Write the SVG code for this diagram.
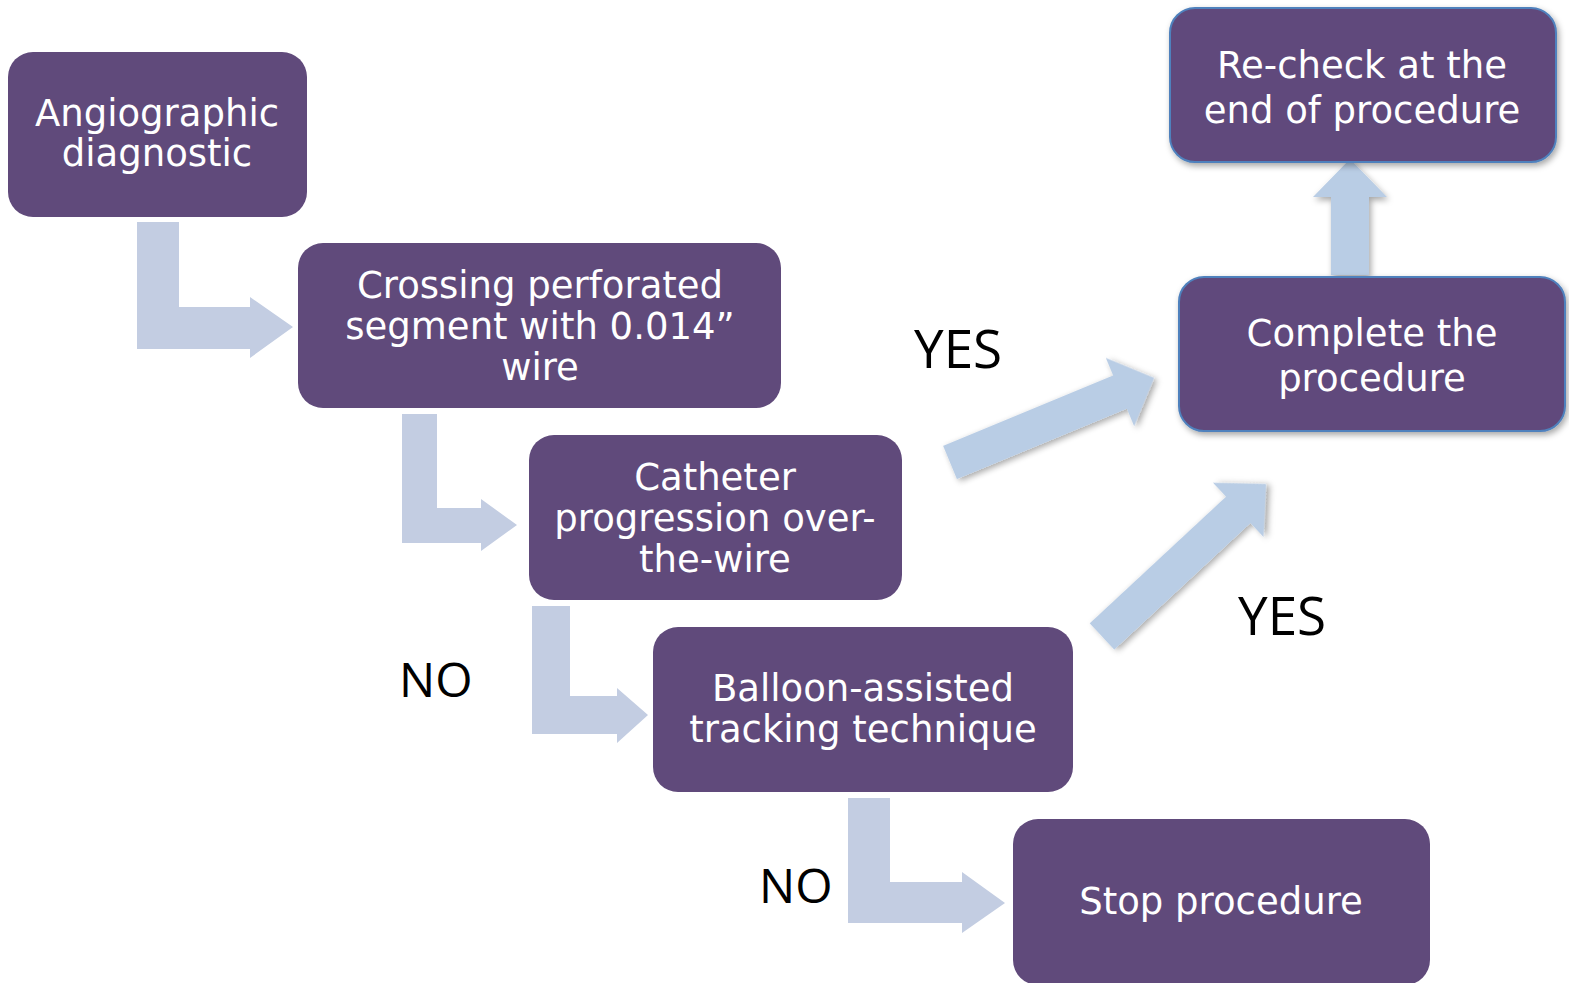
<svg xmlns="http://www.w3.org/2000/svg" width="1569" height="983" viewBox="0 0 1569 983">
<defs>
<filter id="sh" x="-20%" y="-20%" width="140%" height="150%">
<feDropShadow dx="2" dy="3" stdDeviation="3" flood-color="#000" flood-opacity="0.35"/>
</filter>
<style>
.box{fill:#604A7B;}
.boxb{fill:#604A7B;stroke:#4F81BD;stroke-width:2;filter:url(#sh);}
.t{font-family:"DejaVu Sans",Verdana,sans-serif;font-size:37px;fill:#FFFFFF;text-anchor:middle;}
.lbl{font-family:"Open Sans","Liberation Sans",sans-serif;font-size:50px;fill:#000000;}
.yes{font-size:53px;}
.no{font-size:48px;}
.bent{fill:#C3CDE2;}
.arr{fill:#B9CDE5;filter:url(#sh);}
</style>
</defs>
<rect width="1569" height="983" fill="#FFFFFF"/>
<g id="connectors">
<polygon class="bent" points="137,222 179,222 179,307 250,307 250,297 293,327 250,358 250,349 137,349"/>
<polygon class="bent" points="402,414 437,414 437,508 481,508 481,499 517,525 481,551 481,543 402,543"/>
<polygon class="bent" points="532,606 570,606 570,696 617,696 617,688 648,715 617,743 617,734 532,734"/>
<polygon class="bent" points="848,798 890,798 890,882 962,882 962,872 1005,903 962,933 962,923 848,923"/>
<polygon class="arr" points="1331,275 1331,197 1313,197 1350,159 1387,197 1369,197 1369,275"/>
<polygon class="arr" transform="translate(950,462.5) rotate(-22.5)" points="0,-18 184,-18 184,-37 221,0 184,37 184,18 0,18"/>
<polygon class="arr" transform="translate(1102,636.5) rotate(-42.9)" points="0,-18 186,-18 186,-37 224,0 186,37 186,18 0,18"/>
<text class="lbl yes" x="914" y="368">YES</text>
<text class="lbl yes" x="1238" y="635">YES</text>
<text class="lbl no" x="399" y="697">NO</text>
<text class="lbl no" x="759" y="903">NO</text>
</g>
<g id="n1">
<rect class="box" x="8" y="52" width="299" height="165" rx="25"/>
<text class="t" x="157" y="126">Angiographic</text>
<text class="t" x="157" y="166">diagnostic</text>
</g>
<g id="n2">
<rect class="box" x="298" y="243" width="483" height="165" rx="25"/>
<text class="t" x="540" y="298">Crossing perforated</text>
<text class="t" x="540" y="339">segment with 0.014”</text>
<text class="t" x="540" y="380">wire</text>
</g>
<g id="n3">
<rect class="box" x="529" y="435" width="373" height="165" rx="25"/>
<text class="t" x="715" y="490">Catheter</text>
<text class="t" x="715" y="531">progression over-</text>
<text class="t" x="715" y="572">the-wire</text>
</g>
<g id="n4">
<rect class="box" x="653" y="627" width="420" height="165" rx="25"/>
<text class="t" x="863" y="701">Balloon-assisted</text>
<text class="t" x="863" y="742">tracking technique</text>
</g>
<g id="n5">
<rect class="box" x="1013" y="819" width="417" height="166" rx="25"/>
<text class="t" x="1221" y="914">Stop procedure</text>
</g>
<g id="n6">
<rect class="boxb" x="1179" y="277" width="386" height="154" rx="25"/>
<text class="t" x="1372" y="346">Complete the</text>
<text class="t" x="1372" y="391">procedure</text>
</g>
<g id="n7">
<rect class="boxb" x="1170" y="8" width="386" height="154" rx="25"/>
<text class="t" x="1362" y="78">Re-check at the</text>
<text class="t" x="1362" y="123">end of procedure</text>
</g>
</svg>
